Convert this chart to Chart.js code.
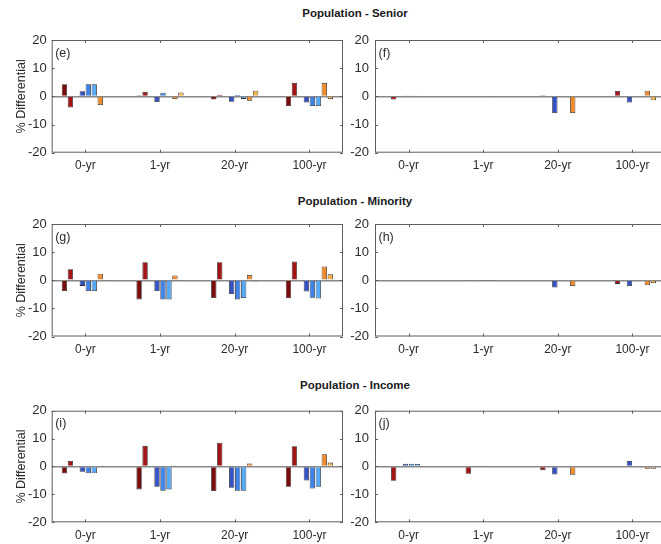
<!DOCTYPE html>
<html><head><meta charset="utf-8">
<script src="https://cdn.jsdelivr.net/npm/chart.js@4.4.1/dist/chart.umd.min.js"></script>
<style>
html,body{margin:0;padding:0;background:#fff;width:661px;height:544px;overflow:hidden;position:relative;font-family:"Liberation Sans",Arial,sans-serif}
.p{position:absolute}
.t{position:absolute;left:355px;transform:translate(-50%,-50%);font-weight:bold;font-size:11.5px;color:#1a1a1a;white-space:nowrap}
</style></head><body>
<div class="t" id="t0" style="top:13px"></div>
<div class="t" id="t1" style="top:201px"></div>
<div class="t" id="t2" style="top:385px"></div>
<div class="p" id="d0" style="left:0;top:20px;width:345px;height:165px"><canvas id="c0"></canvas></div>
<div class="p" id="d1" style="left:330px;top:20px;width:345px;height:165px"><canvas id="c1"></canvas></div>
<div class="p" id="d2" style="left:0;top:204px;width:345px;height:165px"><canvas id="c2"></canvas></div>
<div class="p" id="d3" style="left:330px;top:204px;width:345px;height:165px"><canvas id="c3"></canvas></div>
<div class="p" id="d4" style="left:0;top:390px;width:345px;height:154px"><canvas id="c4"></canvas></div>
<div class="p" id="d5" style="left:330px;top:390px;width:345px;height:154px"><canvas id="c5"></canvas></div>
<script>
// ---------- data ----------
const groups = ['0-yr', '1-yr', '20-yr', '100-yr'];
const rowTitles = ['Population - Senior', 'Population - Minority', 'Population - Income'];
const panelLabels = ['(e)', '(f)', '(g)', '(h)', '(i)', '(j)'];
const yAxisTitle = '% Differential';

// each panel: 8 series (rows) x 4 groups (columns)
const seniorLeft = [
  [4.3, 0.4, -1.1, -3.4],
  [-4.0, 1.6, 0.6, 4.8],
  [0, 0, 0, 0],
  [1.8, -2.0, -1.9, -2.2],
  [4.3, 1.3, 0.5, -3.4],
  [4.3, -0.2, -0.9, -3.4],
  [-3.1, -1.0, -1.6, 4.8],
  [0, 1.4, 2.0, -1.0]
];
const seniorRight = [
  [0, 0, 0, 0],
  [-1.1, 0.2, 0.4, 1.9],
  [0, 0, 0, 0],
  [0.3, 0.2, -5.9, -2.2],
  [0.3, -0.1, 0, 0],
  [0.3, -0.1, 0, 0],
  [0, 0, -5.9, 2.0],
  [0, 0, 0, -1.4]
];
const minorityLeft = [
  [-3.8, -6.8, -6.3, -6.4],
  [3.9, 6.4, 6.4, 6.7],
  [0, 0, 0, 0],
  [-2.0, -3.8, -4.9, -4.0],
  [-3.8, -6.8, -6.8, -6.2],
  [-3.8, -6.8, -6.3, -6.5],
  [2.3, 1.7, 1.9, 4.9],
  [-0.1, -0.1, -0.4, 2.1]
];
const minorityRight = [
  [0, 0, 0, 0],
  [0, -0.2, -0.3, -1.3],
  [0, 0, 0, 0],
  [0.3, -0.2, -2.6, -2.1],
  [0.3, -0.1, 0, 0],
  [0.3, -0.1, 0, 0],
  [0, 0, -2.1, -1.8],
  [0, 0, 0, -1.0]
];
const incomeLeft = [
  [-2.5, -8.2, -8.8, -7.3],
  [2.0, 7.4, 8.5, 7.3],
  [0, 0, 0, 0],
  [-1.9, -7.3, -7.6, -5.0],
  [-2.4, -8.7, -8.7, -7.9],
  [-2.4, -8.2, -8.7, -7.3],
  [0.4, 0.2, 1.1, 4.4],
  [0, -0.3, 0, 1.4]
];
const incomeRight = [
  [0, 0, 0, 0],
  [-5.1, -2.6, -1.3, 0],
  [0, 0, 0, 0],
  [1.0, 0.2, -2.9, 2.0],
  [1.0, 0, 0, 0],
  [0.9, 0, 0, 0],
  [0, 0, -3.0, -0.8],
  [0, 0, 0, -0.8]
];

// ---------- styles ----------
const barColors = ['#7a0b0b', '#a31414', '#999999', '#3551c6', '#3f82ea', '#56a9f8', '#f28b2c', '#f6b245'];
const edgeColor = '#2e2e2e';
const frameColor = '#5f5f5f';
const textColor = '#2b2b2b';
const fontFam = '"Liberation Sans", Arial, sans-serif';

rowTitles.forEach((t, i) => { document.getElementById('t' + i).textContent = t; });

const framePlugin = {
  id: 'frame',
  afterDraw(chart) {
    const { ctx, chartArea: a, scales: { x, y } } = chart;
    const lbl = chart.options.plugins.frame.label;
    ctx.save();
    ctx.strokeStyle = frameColor;
    ctx.lineWidth = 1;
    ctx.strokeRect(a.left + 0.5, a.top + 0.5, a.right - a.left - 1, a.bottom - a.top - 1);
    ctx.beginPath();
    x.ticks.forEach(t => {
      const px = Math.round(x.getPixelForValue(t.value)) + 0.5;
      ctx.moveTo(px, a.top); ctx.lineTo(px, a.top + 3);
      ctx.moveTo(px, a.bottom); ctx.lineTo(px, a.bottom - 3);
    });
    y.ticks.forEach(t => {
      const py = Math.round(y.getPixelForValue(t.value)) + 0.5;
      ctx.moveTo(a.left, py); ctx.lineTo(a.left + 3, py);
      ctx.moveTo(a.right, py); ctx.lineTo(a.right - 3, py);
    });
    ctx.stroke();
    ctx.fillStyle = textColor;
    ctx.font = '12.5px ' + fontFam;
    ctx.textBaseline = 'top';
    ctx.textAlign = 'left';
    ctx.fillText(lbl, a.left + 3.5, a.top + 7);
    ctx.restore();
  }
};

function makePanel(idx, values, isLeft, padTop, xh) {
  const yw = isLeft ? 51.7 : 45;
  const padRight = isLeft ? 2 : 9;
  const datasets = values.map((row, s) => ({
    data: row.map((v, g) => ({ x: g + 1, y: v })),
    backgroundColor: barColors[s],
    borderColor: edgeColor,
    borderWidth: 0.8,
    categoryPercentage: 0.64,
    barPercentage: 0.9
  }));
  new Chart(document.getElementById('c' + idx), {
    type: 'bar',
    data: { datasets },
    plugins: [framePlugin],
    options: {
      responsive: true,
      maintainAspectRatio: false,
      animation: false,
      layout: { padding: { left: 0, right: padRight, top: padTop, bottom: 0 } },
      plugins: { legend: { display: false }, tooltip: { enabled: false }, frame: { label: panelLabels[idx] } },
      scales: {
        x: {
          type: 'linear', min: 0.55, max: 4.45, offset: false,
          afterBuildTicks: s => { s.ticks = groups.map((g, i) => ({ value: i + 1 })); },
          afterFit: s => { s.height = xh; },
          ticks: { callback: v => groups[v - 1] ?? '', color: textColor, font: { size: 12, family: fontFam }, padding: 6, autoSkip: false, maxRotation: 0 },
          grid: { display: false, drawTicks: false },
          border: { display: false }
        },
        y: {
          min: -20, max: 20,
          afterFit: s => { s.width = yw; },
          ticks: { stepSize: 10, color: textColor, font: { size: 13, family: fontFam }, padding: isLeft ? 5 : 6 },
          grid: { drawTicks: false, color: c => (c.tick && c.tick.value === 0) ? '#888888' : 'rgba(0,0,0,0)', lineWidth: 1.4 },
          border: { display: false },
          title: { display: isLeft, text: yAxisTitle, color: textColor, font: { size: 12.5, family: fontFam }, padding: { top: 14, bottom: 0 } }
        }
      }
    }
  });
}

makePanel(0, seniorLeft, true, 20, 32.3);
makePanel(1, seniorRight, false, 20, 32.3);
makePanel(2, minorityLeft, true, 20, 32.5);
makePanel(3, minorityRight, false, 20, 32.5);
makePanel(4, incomeLeft, true, 20.7, 21.7);
makePanel(5, incomeRight, false, 20.7, 21.7);
</script>
</body></html>
